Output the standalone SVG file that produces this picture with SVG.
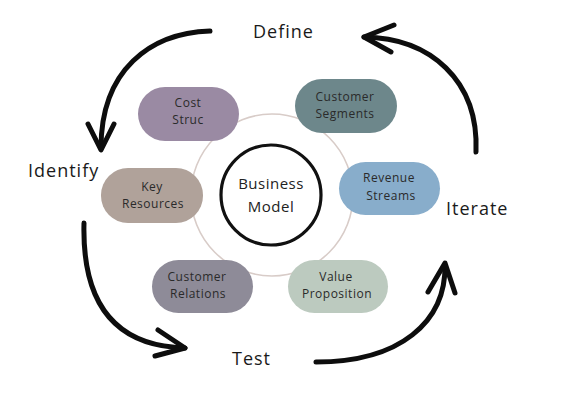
<svg xmlns="http://www.w3.org/2000/svg" width="572" height="415" viewBox="0 0 572 415">
<style>
.bg{fill:#ffffff}
.ring{fill:none;stroke:#d8ccc8;stroke-width:1.6}
.core{fill:#ffffff;stroke:#111111;stroke-width:3.2}
.box text{font-family:"Open Sans","Liberation Sans",sans-serif;font-size:12px;fill:#2a2a2a;text-anchor:middle;letter-spacing:0.5px}
.core-t{font-family:"Open Sans","Liberation Sans",sans-serif;font-size:15px;fill:#222222;text-anchor:middle;letter-spacing:0.5px}
.stage{font-family:"Open Sans","Liberation Sans",sans-serif;font-size:18px;fill:#1a1a1a;letter-spacing:1px}
.arc{fill:none;stroke:#0d0d0d;stroke-width:5;stroke-linecap:round;stroke-linejoin:round}
</style>
<rect class="bg" x="0" y="0" width="572" height="415"/>
<circle class="ring" cx="272" cy="195" r="81"/>

<g id="cost-struc" class="box">
<rect x="138" y="87" width="101" height="54" rx="27" fill="#9a8aa3"/>
<text x="188" y="106.5">Cost</text>
<text x="188" y="123.5">Struc</text>
</g>
<g id="customer-segments" class="box">
<rect x="295" y="79" width="102" height="54" rx="27" fill="#6d878b"/>
<text x="345" y="101">Customer</text>
<text x="345" y="118">Segments</text>
</g>
<g id="key-resources" class="box">
<rect x="101" y="168" width="102" height="55" rx="27" fill="#b0a29a"/>
<text x="152" y="191">Key</text>
<text x="153" y="208">Resources</text>
</g>
<g id="revenue-streams" class="box">
<rect x="339" y="162" width="101" height="53" rx="26.5" fill="#88adcb"/>
<text x="389" y="182">Revenue</text>
<text x="391" y="200">Streams</text>
</g>
<g id="customer-relations" class="box">
<rect x="152" y="260" width="101" height="53" rx="26.5" fill="#8e8b98"/>
<text x="197" y="281">Customer</text>
<text x="198" y="298">Relations</text>
</g>
<g id="value-proposition" class="box">
<rect x="288" y="260" width="100" height="53" rx="26.5" fill="#bccabf"/>
<text x="336" y="281">Value</text>
<text x="337" y="298">Proposition</text>
</g>
<g id="business-model">
<circle class="core" cx="271" cy="195" r="50"/>
<text class="core-t" x="271" y="189">Business</text>
<text class="core-t" x="271" y="212">Model</text>
</g>

<g id="stage-define"><text class="stage" x="253" y="38">Define</text></g>
<g id="stage-identify"><text class="stage" x="28" y="177">Identify</text></g>
<g id="stage-iterate"><text class="stage" x="446" y="215">Iterate</text></g>
<g id="stage-test"><text class="stage" x="232" y="365">Test</text></g>

<g id="connectors">
<path class="arc" d="M210,31 C150,33 101,70 101,148"/>
<path class="arc" d="M88,124 L101,150 L114,124"/>
<path class="arc" d="M84,223 C82,300 112,346 185,348"/>
<path class="arc" d="M158,330 L185,348 L155,356"/>
<path class="arc" d="M316,362 C400,362 446,322 445,265"/>
<path class="arc" d="M428,292 L445,263 L455,293"/>
<path class="arc" d="M476,152 C479,80 430,38 364,37"/>
<path class="arc" d="M394,25 L364,37 L391,52"/>
</g>
</svg>
